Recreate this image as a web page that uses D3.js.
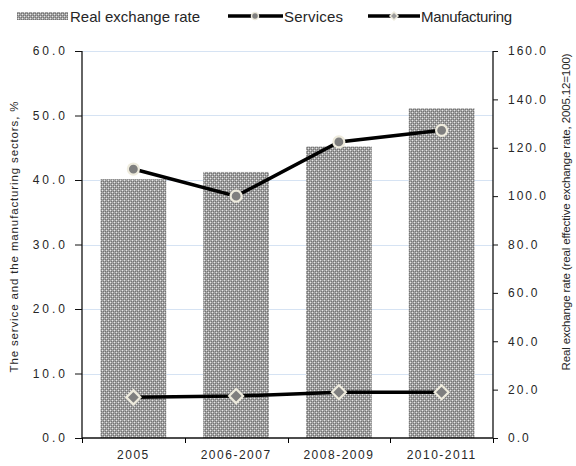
<!DOCTYPE html>
<html>
<head>
<meta charset="utf-8">
<script src="https://cdn.jsdelivr.net/npm/d3@7"></script>
<style>
  body { margin: 0; background: #fff; }
  svg { display: block; font-family: "Liberation Sans", Arial, sans-serif; }
</style>
</head>
<body>
<svg id="chart" width="576" height="466"></svg>
<script>
// Periods on the x axis
const categories = ["2005", "2006-2007", "2008-2009", "2010-2011"];
// Real effective exchange rate (2005.12 = 100), right axis
const exchangeRate = [107.0, 110.0, 120.5, 136.3];
// Shares of the service and manufacturing sectors, %, left axis
const services = [41.7, 37.5, 45.9, 47.7];
const manufacturing = [6.3, 6.5, 7.1, 7.1];
// Tick labels
const leftTicks = [0, 10, 20, 30, 40, 50, 60];
const rightTicks = [0, 20, 40, 60, 80, 100, 120, 140, 160];

const svg = d3.select("#chart");
const plotL = 82, plotR = 493, plotT = 51, plotB = 438;

const x = d3.scaleBand().domain(categories).range([plotL, plotR]).paddingInner(0.36).paddingOuter(0.18);
const xOuter = d3.scaleBand().domain(categories).range([plotL, plotR]);
const yL = d3.scaleLinear().domain([0, 60]).range([plotB, plotT]);
const yR = d3.scaleLinear().domain([0, 160]).range([plotB, plotT]);

// Dotted fill for the bars
const defs = svg.append("defs");
const pat = defs.append("pattern").attr("id", "dots")
  .attr("width", 4).attr("height", 4).attr("patternUnits", "userSpaceOnUse");
pat.append("rect").attr("width", 4).attr("height", 4).attr("fill", "#a2a2a2");
[[0, 0], [2, 2]].forEach(([px, py]) =>
  pat.append("rect").attr("x", px).attr("y", py).attr("width", 1).attr("height", 1).attr("fill", "#e6e6e6"));
[[1, 1], [3, 3], [3, 1], [1, 3]].forEach(([px, py]) =>
  pat.append("rect").attr("x", px).attr("y", py).attr("width", 1).attr("height", 1).attr("fill", "#747474"));

// Gridlines
svg.append("g").selectAll("line").data(leftTicks.filter(d => d > 0)).join("line")
  .attr("x1", plotL).attr("x2", plotR)
  .attr("y1", d => Math.round(yL(d)) + 0.5).attr("y2", d => Math.round(yL(d)) + 0.5)
  .attr("stroke", "#d6e3f3").attr("stroke-width", 1);

// Bars
svg.append("g").selectAll("rect").data(categories).join("rect")
  .attr("x", d => x(d)).attr("width", x.bandwidth())
  .attr("y", (d, i) => yR(exchangeRate[i]))
  .attr("height", (d, i) => plotB - yR(exchangeRate[i]))
  .attr("fill", "url(#dots)");

// Axes
const fmt = d3.format(".1f");
const gL = svg.append("g").attr("transform", `translate(${plotL},0)`)
  .call(d3.axisLeft(yL).tickValues(leftTicks).tickFormat(fmt).tickSize(7).tickPadding(10));
const gR = svg.append("g").attr("transform", `translate(${plotR},0)`)
  .call(d3.axisRight(yR).tickValues(rightTicks).tickFormat(fmt).tickSize(5).tickPadding(10));
const gB = svg.append("g").attr("transform", `translate(0,${plotB})`)
  .call(d3.axisBottom(xOuter).tickSize(0).tickPadding(12));
// Category separators on the bottom axis
svg.append("g").selectAll("line")
  .data(categories.map(c => xOuter(c)).concat([plotR]))
  .join("line")
  .attr("x1", d => Math.round(d) + 0.5).attr("x2", d => Math.round(d) + 0.5)
  .attr("y1", plotB).attr("y2", plotB + 5)
  .attr("stroke", "#000");

[gL, gR, gB].forEach(g => {
  g.selectAll(".domain").attr("stroke", "#111").attr("stroke-width", 1.3);
  g.selectAll(".tick line").attr("stroke", "#111");
  g.selectAll("text").attr("font-size", 12).attr("fill", "#262626")
    .attr("font-family", "'Liberation Sans', Arial, sans-serif");
});
gR.selectAll(".domain").attr("d", `M0,${plotT}V${plotB}`);
gL.selectAll(".domain").attr("d", `M0,${plotT}V${plotB}`);
gB.selectAll(".domain").attr("d", `M${plotL},0H${plotR}`);
gL.selectAll("text").attr("letter-spacing", "3px").attr("dx", "3px");
gR.selectAll("text").attr("letter-spacing", "2px");
gB.selectAll("text").attr("letter-spacing", "1.5px");

// Lines
const lineGen = d3.line().x((d, i) => x(categories[i]) + x.bandwidth() / 2).y(d => yL(d));
const markerStroke = "#eeebdd";

svg.append("path").datum(services).attr("d", lineGen)
  .attr("fill", "none").attr("stroke", "#000").attr("stroke-width", 3.5);
svg.append("g").selectAll("circle").data(services).join("circle")
  .attr("cx", (d, i) => x(categories[i]) + x.bandwidth() / 2)
  .attr("cy", d => yL(d)).attr("r", 5.5)
  .attr("fill", "#7f7f7f").attr("stroke", markerStroke).attr("stroke-width", 2.2);

svg.append("path").datum(manufacturing).attr("d", lineGen)
  .attr("fill", "none").attr("stroke", "#000").attr("stroke-width", 3.5);
svg.append("g").selectAll("path").data(manufacturing).join("path")
  .attr("transform", (d, i) => `translate(${x(categories[i]) + x.bandwidth() / 2},${yL(d)})`)
  .attr("d", "M0,-7L7,0L0,7L-7,0Z")
  .attr("fill", "#7f7f7f").attr("stroke", markerStroke).attr("stroke-width", 2.2);

// Axis titles
svg.append("text")
  .attr("transform", `translate(18,237) rotate(-90)`)
  .attr("text-anchor", "middle").attr("font-size", 11.5).attr("fill", "#262626")
  .attr("textLength", 271).attr("lengthAdjust", "spacing")
  .text("The service  and the manufacturing sectors,  %");
svg.append("text")
  .attr("transform", `translate(570,212) rotate(-90)`)
  .attr("text-anchor", "middle").attr("font-size", 11.5).attr("fill", "#262626")
  .attr("textLength", 317).attr("lengthAdjust", "spacing")
  .text("Real exchange rate (real effective exchange rate, 2005.12=100)");

// Legend
const lg = svg.append("g").attr("font-size", 15).attr("fill", "#262626");
lg.append("rect").attr("x", 17).attr("y", 12).attr("width", 51).attr("height", 8).attr("fill", "url(#dots)");
lg.append("text").attr("x", 70).attr("y", 22).attr("textLength", 130).attr("lengthAdjust", "spacing")
  .text("Real exchange rate");

lg.append("line").attr("x1", 228).attr("x2", 283).attr("y1", 16).attr("y2", 16)
  .attr("stroke", "#000").attr("stroke-width", 3.5);
lg.append("circle").attr("cx", 255).attr("cy", 16).attr("r", 3.5)
  .attr("fill", "#7f7f7f").attr("stroke", markerStroke).attr("stroke-width", 1.5);
lg.append("text").attr("x", 284).attr("y", 22).attr("textLength", 59).attr("lengthAdjust", "spacing")
  .text("Services");

lg.append("line").attr("x1", 368).attr("x2", 420).attr("y1", 16).attr("y2", 16)
  .attr("stroke", "#000").attr("stroke-width", 3.5);
lg.append("path").attr("transform", "translate(394,16)").attr("d", "M0,-4L4,0L0,4L-4,0Z")
  .attr("fill", "#9a9a9a").attr("stroke", markerStroke).attr("stroke-width", 1.5);
lg.append("text").attr("x", 421).attr("y", 22).attr("textLength", 91).attr("lengthAdjust", "spacing")
  .text("Manufacturing");
</script>
</body>
</html>
